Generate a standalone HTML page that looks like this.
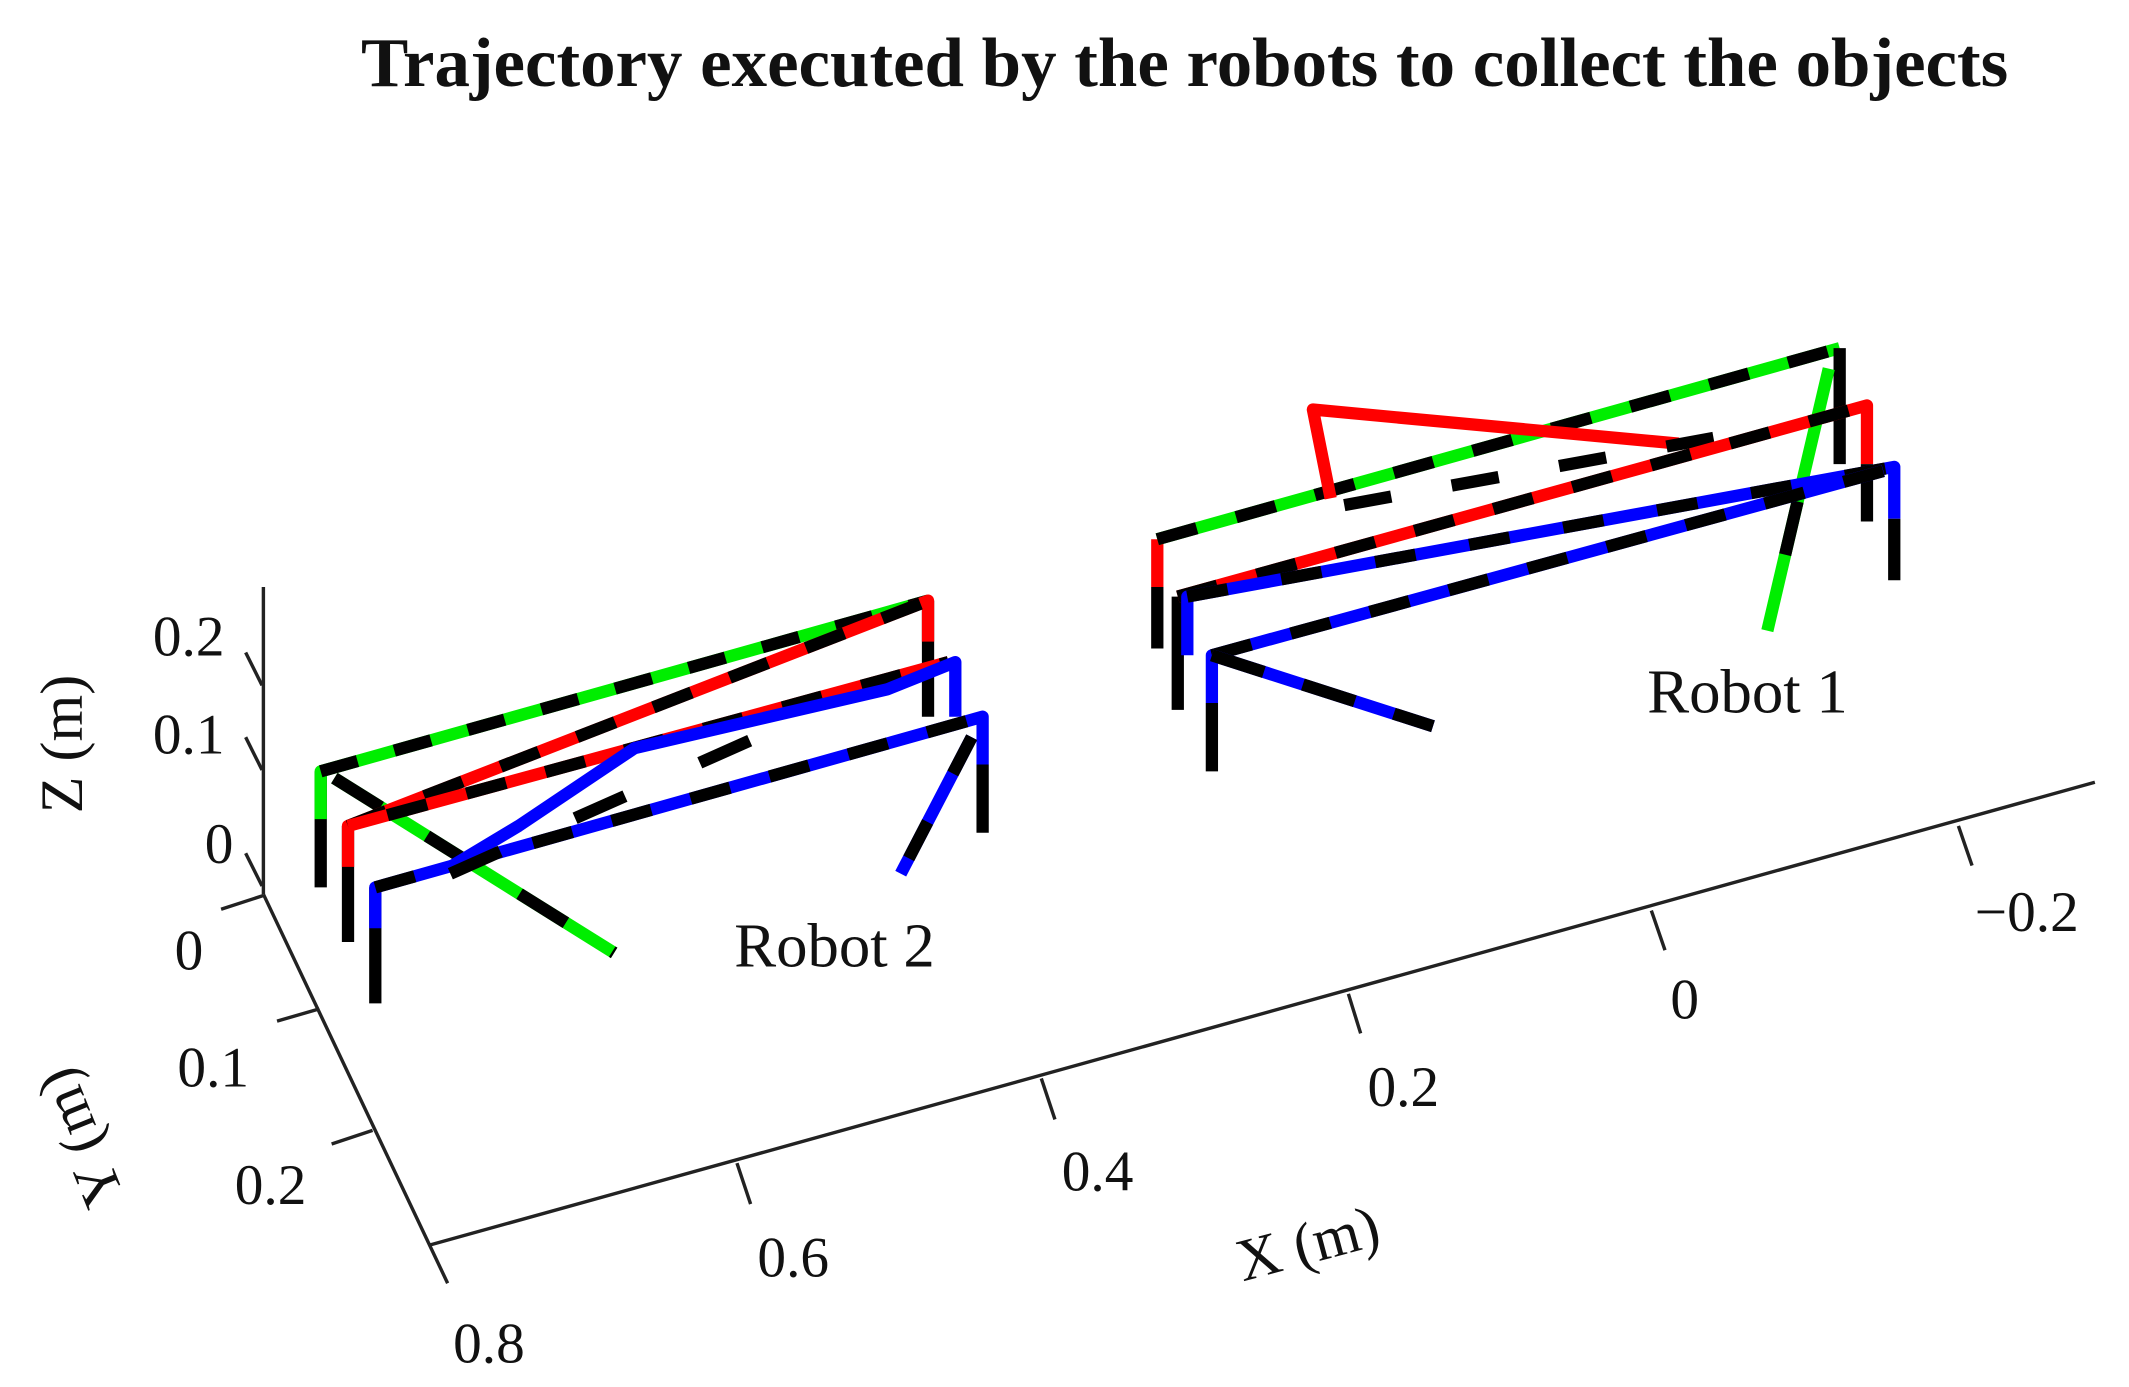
<!DOCTYPE html>
<html><head><meta charset="utf-8"><style>
html,body{margin:0;padding:0;background:#fff}
svg{display:block}
text{font-family:"Liberation Serif",serif;fill:#111}
</style></head><body>
<svg width="2129" height="1387" viewBox="0 0 1560 1016" preserveAspectRatio="none" xmlns="http://www.w3.org/2000/svg">
<text x="868" y="63" font-size="51" font-weight="bold" text-anchor="middle" textLength="1207" lengthAdjust="spacingAndGlyphs">Trajectory executed by the robots to collect the objects</text>
<g stroke="#222" stroke-width="2.5" fill="none">
<line x1="193" y1="430" x2="193" y2="655"/>
<line x1="193" y1="655" x2="328" y2="940"/>
<line x1="315" y1="912" x2="1535" y2="573"/>
<line x1="180" y1="478" x2="192" y2="502"/>
<line x1="180" y1="540" x2="192" y2="564"/>
<line x1="180" y1="625" x2="192" y2="649"/>
<line x1="162" y1="666" x2="193" y2="656"/>
<line x1="203" y1="748" x2="234" y2="739"/>
<line x1="243" y1="838" x2="273" y2="828"/>
<line x1="540" y1="852" x2="550" y2="882"/>
<line x1="763" y1="790" x2="773" y2="820"/>
<line x1="988" y1="728" x2="997" y2="757"/>
<line x1="1210" y1="667" x2="1220" y2="696"/>
<line x1="1435" y1="605" x2="1445" y2="634"/>
</g>
<g font-size="42">
<text x="112" y="480">0.2</text><text x="112" y="552">0.1</text><text x="150" y="632">0</text>
<text x="128" y="710">0</text><text x="130" y="796">0.1</text><text x="172" y="882">0.2</text>
<text x="332" y="998">0.8</text><text x="555" y="935">0.6</text><text x="778" y="872">0.4</text>
<text x="1002" y="810">0.2</text><text x="1224" y="746">0</text><text x="1447" y="682">−0.2</text>
<text transform="translate(60,545) rotate(-90)" text-anchor="middle" font-size="44">Z (m)</text>
<text transform="translate(72,828) rotate(-112)" text-anchor="middle" font-size="44">Y (m)</text>
<text transform="translate(962,925) rotate(-15)" text-anchor="middle" font-size="44">X (m)</text>
<text x="1207" y="522" font-size="46">Robot 1</text>
<text x="538" y="708" font-size="46">Robot 2</text>
</g>
<g fill="none" stroke-width="9" stroke-linejoin="round">
<!-- Robot 2 -->
<polyline stroke="#000" points="235,650 235,565"/>
<polyline stroke="#00ee00" points="235,600 235,565 680,440"/>
<polyline stroke="#000" stroke-dasharray="28 28" points="235,565 680,440"/>
<polyline stroke="#000" points="680,440 680,525"/>
<polyline stroke="#00ee00" points="245,570 450,698"/>
<polyline stroke="#000" stroke-dasharray="40 40" points="245,570 450,698"/>
<polyline stroke="#000" points="255,690 255,605"/>
<polyline stroke="#ff0000" points="255,635 255,605 680,440 680,470"/>
<polyline stroke="#000" stroke-dasharray="30 30" points="255,605 680,440"/>
<polyline stroke="#ff0000" points="255,605 695,485"/>
<polyline stroke="#000" stroke-dasharray="30 30" stroke-dashoffset="30" points="255,605 695,485"/>
<polyline stroke="#000" points="275,735 275,650"/>
<polyline stroke="#0000ff" points="275,680 275,650 720,525 720,560"/>
<polyline stroke="#000" stroke-dasharray="30 30" points="275,650 720,525"/>
<polyline stroke="#000" points="720,560 720,610"/>
<polyline stroke="#0000ff" points="330,635 380,605 465,548 650,505 700,485 700,525"/>
<polyline stroke="#000" stroke-dasharray="40 60" points="330,640 600,520"/>
<polyline stroke="#0000ff" points="712,540 660,640"/>
<polyline stroke="#000" stroke-dasharray="30 40" points="712,540 660,640"/>
<!-- Robot 1 -->
<polyline stroke="#000" points="848,475 848,430"/>
<polyline stroke="#ff0000" points="848,430 848,395"/>
<polyline stroke="#00ee00" points="848,395 1348,255"/>
<polyline stroke="#000" stroke-dasharray="30 30" points="848,395 1348,255"/>
<polyline stroke="#000" points="1348,255 1348,340"/>
<polyline stroke="#00ee00" points="1340,270 1295,462"/>
<polyline stroke="#000" stroke-dasharray="40 100" stroke-dashoffset="-100" points="1340,270 1295,462"/>
<polyline stroke="#ff0000" points="975,365 962,300 1230,325"/>
<polyline stroke="#000" stroke-dasharray="35 45" points="985,370 1260,320"/>
<polyline stroke="#000" points="863,520 863,437"/>
<polyline stroke="#ff0000" points="863,437 1368,297 1368,340"/>
<polyline stroke="#000" stroke-dasharray="30 30" points="863,437 1368,297"/>
<polyline stroke="#000" points="1368,340 1368,382"/>
<polyline stroke="#0000ff" points="870,480 870,437 1388,342 1388,380"/>
<polyline stroke="#000" stroke-dasharray="30 40" points="870,437 1388,342"/>
<polyline stroke="#000" points="1388,380 1388,425"/>
<polyline stroke="#000" points="888,565 888,515"/>
<polyline stroke="#0000ff" points="888,515 888,480 1380,345"/>
<polyline stroke="#000" stroke-dasharray="30 30" points="888,480 1380,345"/>
<polyline stroke="#0000ff" points="888,480 1050,532"/>
<polyline stroke="#000" stroke-dasharray="40 30" points="888,480 1050,532"/>
</g>
</svg>
</body></html>
